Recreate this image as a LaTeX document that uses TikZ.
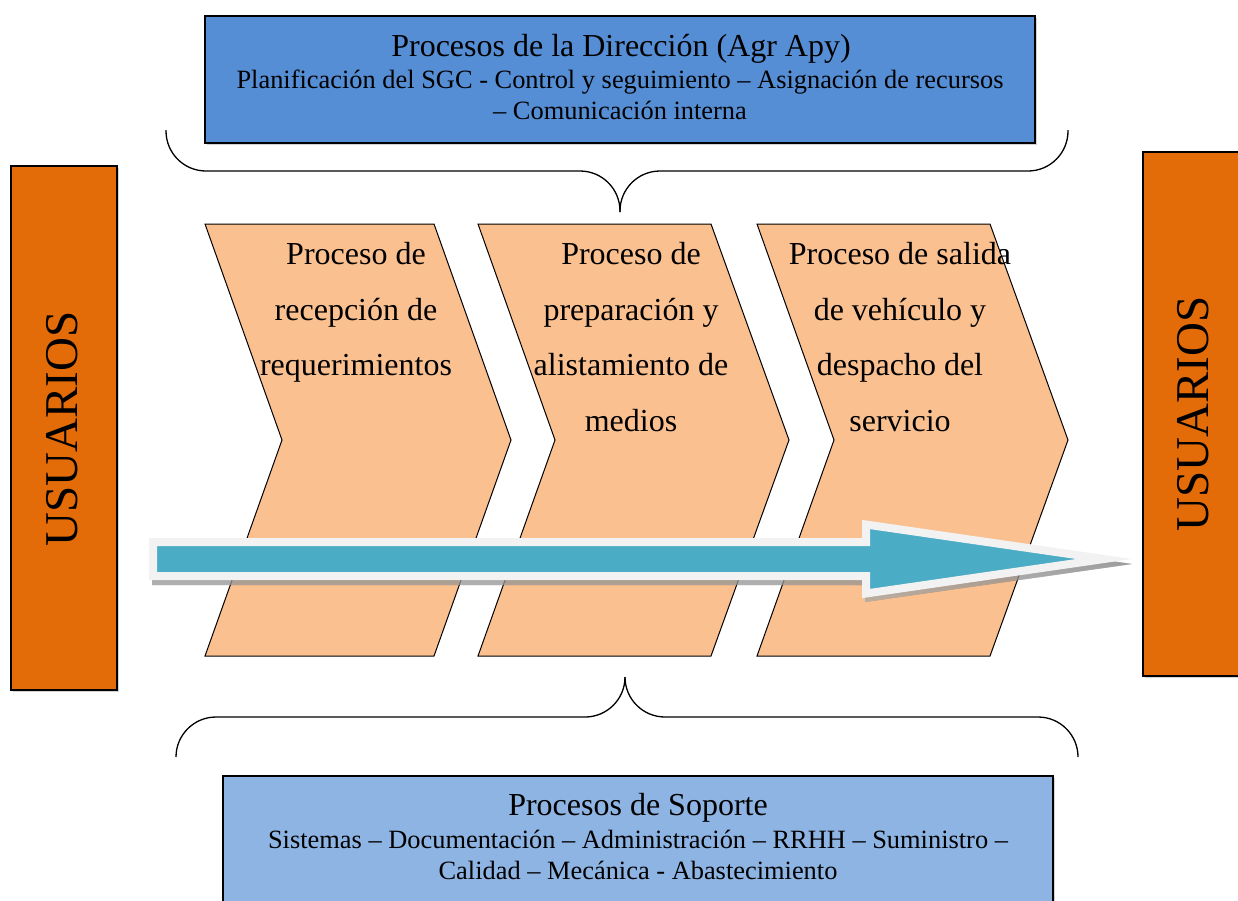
\documentclass[tikz,border=0pt]{standalone}
\usepackage{fontspec}
\setmainfont{Liberation Serif}
\usetikzlibrary{shadows}

\definecolor{dirblue}{HTML}{558ED5}
\definecolor{supblue}{HTML}{8EB4E3}
\definecolor{userorange}{HTML}{E36C09}
\definecolor{peach}{HTML}{FAC090}
\definecolor{flowblue}{HTML}{4BACC6}
\definecolor{rim}{HTML}{F2F2F2}
\definecolor{shade}{HTML}{3C6070}

\begin{document}
\begin{tikzpicture}[x=1pt,y=-1pt,
  panel/.style={draw=black, line width=1.4pt, inner sep=0pt, outer sep=0pt,
    anchor=north west,
    drop shadow={shadow xshift=1.5pt, shadow yshift=-1.5pt, opacity=0.35}},
  bigtxt/.style={font=\fontsize{32}{32}\selectfont, anchor=base, inner sep=0pt},
  smalltxt/.style={font=\fontsize{26.4}{31}\selectfont, anchor=base, inner sep=0pt},
  chevron/.style={fill=peach, draw=black, line width=1pt, line join=miter},
  stagetxt/.style={font=\fontsize{32}{55.6}\selectfont, align=center,
    anchor=north, inner sep=0pt},
  usertxt/.style={font=\fontsize{47}{47}\selectfont, rotate=90, inner sep=0pt},
  brace/.style={draw=black, line width=1.3pt, rounded corners=40pt}
]
\useasboundingbox (0,0) rectangle (1238,900);

% management processes panel
\node[panel, fill=dirblue, minimum width=830pt, minimum height=127pt] (dir) at (205,16) {};
\node[bigtxt] (dirttl) at (621,56) {Procesos de la Dirección (Agr Apy)};
\node[smalltxt] (dirl1) at (620,88) {Planificación del SGC - Control y seguimiento – Asignación de recursos};
\node[smalltxt] (dirl2) at (620,119) {– Comunicación interna};

% support processes panel (runs off the lower edge)
\node[panel, fill=supblue, minimum width=830pt, minimum height=134pt] (sup) at (223,776) {};
\node[bigtxt] (supttl) at (638,815) {Procesos de Soporte};
\node[smalltxt] (supl1) at (638,848) {Sistemas – Documentación – Administración – RRHH – Suministro –};
\node[smalltxt] (supl2) at (638,879) {Calidad – Mecánica - Abastecimiento};

% users on both sides
\node[panel, fill=userorange, minimum width=106pt, minimum height=524pt] (usrL) at (11,166) {};
\node[usertxt] (usrLtxt) at (62,429) {USUARIOS};
\node[panel, fill=userorange, minimum width=100pt, minimum height=524pt] (usrR) at (1143,152) {};
\node[usertxt] (usrRtxt) at (1193,414) {USUARIOS};

% braces
\draw[brace] (166,130) -- (166,171) -- (620,171) -- (620,212);
\draw[brace] (1068,130) -- (1068,171) -- (620,171) -- (620,212);
\draw[brace] (176,757) -- (176,717) -- (625,717) -- (625,677);
\draw[brace] (1078,757) -- (1078,717) -- (625,717) -- (625,677);

% value-chain stages
\draw[chevron] (205,224) -- (434,224) -- (511,440) -- (434,656) -- (205,656) -- (282,440) -- cycle;
\draw[chevron] (478,224) -- (711,224) -- (789,440) -- (711,656) -- (478,656) -- (555,440) -- cycle;
\draw[chevron] (757,224) -- (990,224) -- (1068,440) -- (990,656) -- (757,656) -- (834,440) -- cycle;

\node[stagetxt] (st1) at (356,242) {Proceso de\\recepción de\\requerimientos};
\node[stagetxt] (st2) at (631,242) {Proceso de\\preparación y\\alistamiento de\\medios};
\node[stagetxt] (st3) at (900,242) {Proceso de salida\\de vehículo y\\despacho del\\servicio};

% flow arrow: soft shadow, then rimmed body
\fill[shade, opacity=0.5]
  (152,543) -- (865,543) -- (865,525) -- (1132,564) -- (865,602) -- (865,585) -- (152,585) -- cycle;
\draw[rim, fill=flowblue, line width=8pt, line join=miter, miter limit=12]
  (153,542) -- (866,542) -- (866,524.5) -- (1104,559) -- (866,593.5) -- (866,576) -- (153,576) -- cycle;
\end{tikzpicture}
\end{document}
